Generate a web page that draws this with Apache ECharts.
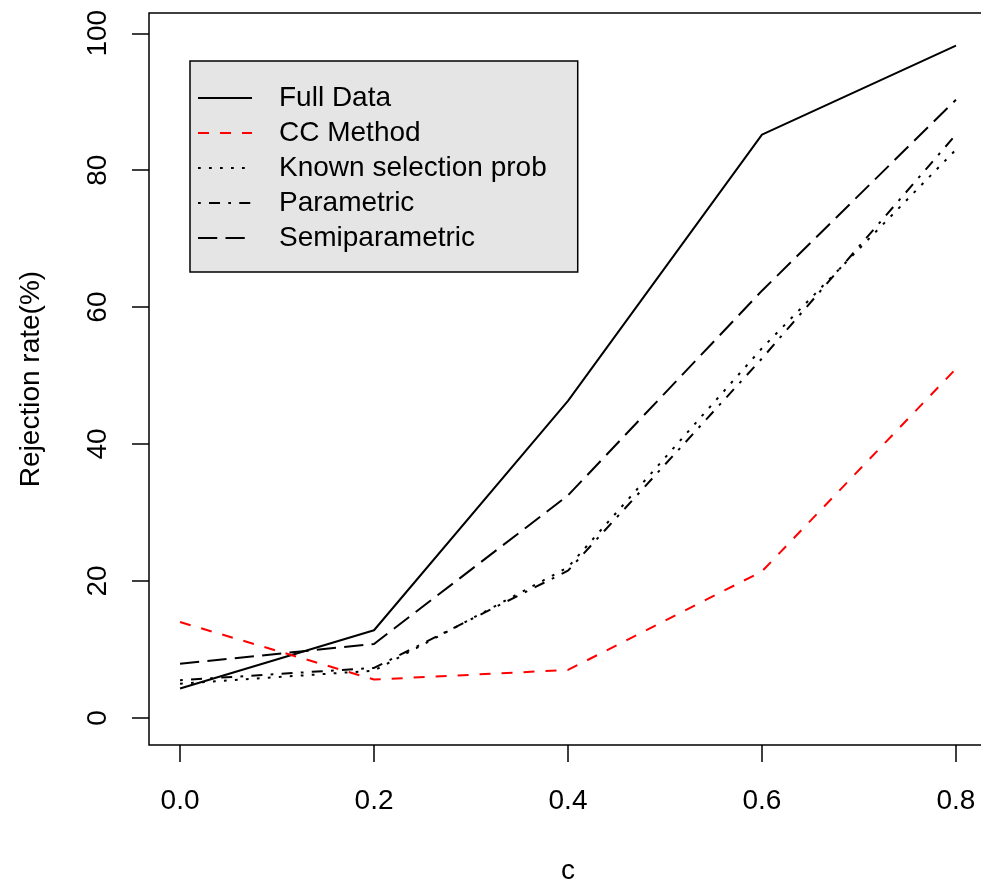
<!DOCTYPE html>
<html>
<head>
<meta charset="utf-8">
<script src="https://cdn.jsdelivr.net/npm/echarts@6/dist/echarts.min.js"></script>
<style>
  html, body { margin: 0; padding: 0; background: #fff; }
  #chart { width: 981px; height: 884px; }
</style>
</head>
<body>
<div id="chart"></div>
<script>
const cValues = [0, 0.2, 0.4, 0.6, 0.8];
const yTicks = [0, 20, 40, 60, 80, 100];
const fullData = [4.3, 12.8, 46.3, 85.2, 98.2];
const ccMethod = [14.0, 5.6, 7.0, 21.4, 51.0];
const knownProb = [5.0, 6.9, 22.0, 54.0, 83.0];
const parametric = [5.5, 7.3, 21.5, 52.5, 85.2];
const semiparametric = [7.9, 10.8, 32.5, 62.4, 90.3];

const font = "Liberation Sans";
const fontSize = 28;
const u = 2.75; // R lty unit at this resolution

const chart = echarts.init(document.getElementById("chart"), null, { renderer: "canvas" });

function pairs(values) {
  return values.map((v, i) => [cValues[i], v]);
}

function lineSeries(name, values, color, dash) {
  return {
    name,
    type: "line",
    symbol: "none",
    data: pairs(values),
    lineStyle: { color, width: 2, type: dash, cap: "butt" },
    itemStyle: { color },
    animation: false,
  };
}

chart.setOption({
  backgroundColor: "#fff",
  textStyle: { fontFamily: font, color: "#000" },
  grid: {
    left: 149, top: 13, width: 838, height: 732,
    outerBoundsMode: "none",
    containLabel: false,
    show: true, borderColor: "#000", borderWidth: 1.5, backgroundColor: "transparent",
  },
  legend: {
    orient: "vertical",
    left: 190,
    top: 61,
    itemWidth: 54,
    itemHeight: 14,
    itemGap: 5,
    padding: [22, 31, 19, 7],
    backgroundColor: "#e5e5e5",
    borderColor: "#000",
    borderWidth: 1.5,
    borderRadius: 0,
    selectedMode: false,
    itemStyle: { color: "transparent", borderWidth: 0, opacity: 0 },
    textStyle: { fontFamily: font, fontSize, color: "#000", lineHeight: 30, padding: [0, 0, 0, 22] },
    data: ["Full Data", "CC Method", "Known selection prob", "Parametric", "Semiparametric"],
  },
  xAxis: {
    type: "value",
    min: -0.032,
    max: 0.832,
    name: "c",
    nameLocation: "middle",
    nameGap: 112,
    nameTextStyle: { fontFamily: font, fontSize, color: "#000" },
    axisLine: { show: false, onZero: false },
    axisTick: { show: true, length: 17, lineStyle: { color: "#000", width: 1.5 }, customValues: cValues },
    axisLabel: {
      fontFamily: font, fontSize, color: "#000", margin: 42,
      customValues: cValues,
      formatter: (v) => v.toFixed(1),
    },
    splitLine: { show: false },
  },
  yAxis: {
    type: "value",
    min: -3.96,
    max: 102.96,
    name: "Rejection rate(%)",
    nameLocation: "middle",
    nameRotate: 90,
    nameGap: 104,
    nameTextStyle: { fontFamily: font, fontSize, color: "#000" },
    axisLine: { show: false, onZero: false },
    axisTick: { show: true, length: 17, lineStyle: { color: "#000", width: 1.5 }, customValues: yTicks },
    axisLabel: {
      fontFamily: font, fontSize, color: "#000", margin: 37, rotate: 90,
      customValues: yTicks,
    },
    splitLine: { show: false },
  },
  series: [
    lineSeries("Full Data", fullData, "#000", "solid"),
    lineSeries("CC Method", ccMethod, "#ff0000", [4 * u, 4 * u]),
    lineSeries("Known selection prob", knownProb, "#000", [1 * u, 3 * u]),
    lineSeries("Parametric", parametric, "#000", [1 * u, 3 * u, 4 * u, 3 * u]),
    lineSeries("Semiparametric", semiparametric, "#000", [7 * u, 3 * u]),
  ],
});
</script>
</body>
</html>
